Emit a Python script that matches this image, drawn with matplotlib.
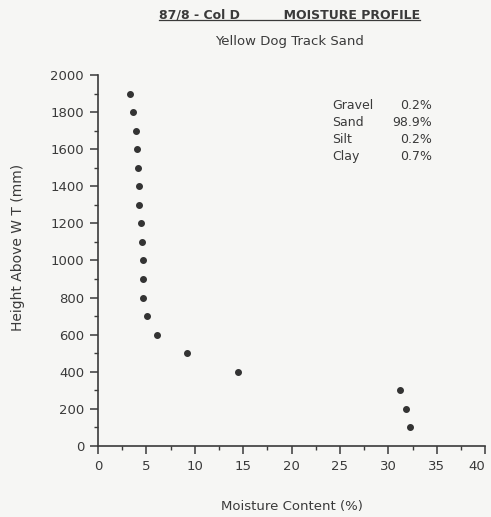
import matplotlib.pyplot as plt
from matplotlib.lines import Line2D
from matplotlib.ticker import MultipleLocator

plt.rcParams['font.family'] = ['DejaVu Sans']

# moisture content (%) against height above water table (mm)
moisture = [3.3, 3.65, 3.9, 4.0, 4.15, 4.2, 4.2, 4.4, 4.55, 4.6, 4.6, 4.65,
            5.05, 6.1, 9.2, 14.5, 31.2, 31.8, 32.2]
height = [1900, 1800, 1700, 1600, 1500, 1400, 1300, 1200, 1100, 1000, 900, 800,
          700, 600, 500, 400, 300, 200, 100]

x_ticks = [0, 5, 10, 15, 20, 25, 30, 35, 40]

fractions = ['Gravel', 'Sand', 'Silt', 'Clay']
percents = ['0.2%', '98.9%', '0.2%', '0.7%']

ink = '#3a3a3a'
paper = '#f6f6f4'

fig = plt.figure(figsize=(4.91, 5.17), dpi=100, facecolor=paper)
ax = fig.add_axes([0.1996, 0.1373, 0.7884, 0.7177], facecolor=paper)

ax.plot(moisture, height, 'o', color='#333333', markersize=4, clip_on=False)

ax.set_xlim(0, 40)
ax.set_ylim(0, 2000)
ax.set_xticks(x_ticks)
ax.xaxis.set_minor_locator(MultipleLocator(2.5))
ax.yaxis.set_major_locator(MultipleLocator(200))
ax.yaxis.set_minor_locator(MultipleLocator(100))

for side in ['top', 'right']:
    ax.spines[side].set_visible(False)
for side in ['left', 'bottom']:
    ax.spines[side].set_color(ink)
    ax.spines[side].set_linewidth(1.2)

ax.tick_params(which='major', length=6, width=1.1, color=ink, labelcolor=ink,
               labelsize=9.5, pad=4)
ax.tick_params(which='minor', length=3, width=1.0, color=ink)

# keep the "40" inside the figure
ax.get_xticklabels()[-1].set_horizontalalignment('right')

ax.set_xlabel('Moisture Content (%)', fontsize=9.5, color=ink)
ax.set_ylabel('Height Above W T (mm)', fontsize=10, color=ink)
ax.xaxis.set_label_coords(0.5, -0.164)
ax.xaxis.label.set_va('center')
ax.yaxis.set_label_coords(-0.207, 0.534)
ax.yaxis.label.set_va('center')

# grain size breakdown
for i, (name, pct) in enumerate(zip(fractions, percents)):
    y = 0.919 - i * 0.0466
    ax.text(0.605, y, name, transform=ax.transAxes, fontsize=9, color=ink,
            va='center', ha='left')
    ax.text(0.862, y, pct, transform=ax.transAxes, fontsize=9, color=ink,
            va='center', ha='right')

title = fig.text(0.589, 0.971, '87/8 - Col D          MOISTURE PROFILE',
                 ha='center', va='center', fontsize=9, fontweight='bold',
                 color=ink)
fig.text(0.589, 0.919, 'Yellow Dog Track Sand', ha='center', va='center',
         fontsize=9.5, color=ink)

# underline the title
fig.canvas.draw()
bb = title.get_window_extent().transformed(fig.transFigure.inverted())
fig.add_artist(Line2D([bb.x0, bb.x1], [bb.y0 + 0.002, bb.y0 + 0.002],
                      transform=fig.transFigure, color=ink, linewidth=0.9))

fig.savefig('out.png', dpi=100, facecolor=paper)
